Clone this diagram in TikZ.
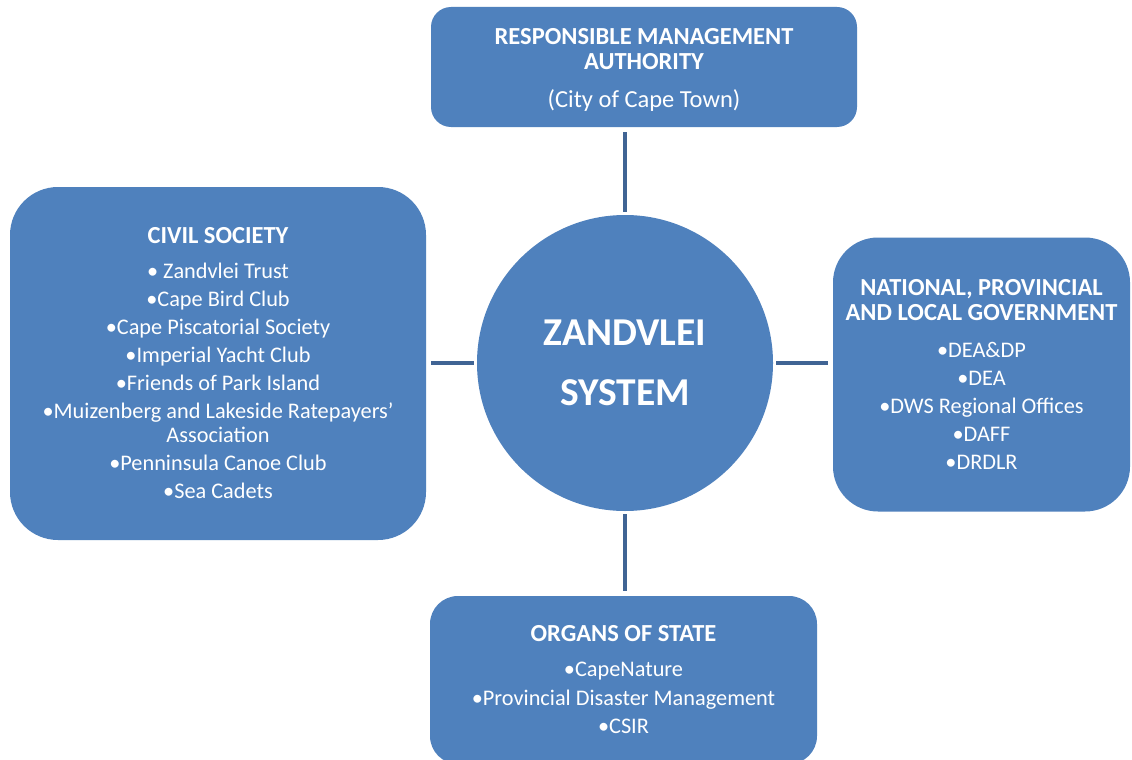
\documentclass[tikz,border=0pt]{standalone}
\usepackage{fontspec}
\setmainfont{Carlito}
\definecolor{boxblue}{HTML}{4F81BD}
\definecolor{linkblue}{RGB}{64,100,148}
\newcommand{\hd}[1]{{\fontsize{24.5}{24}\selectfont\bfseries #1}}
\begin{document}
\begin{tikzpicture}[x=1pt,y=-1pt,
  panel/.style={fill=boxblue, draw=none, text=white, align=center, inner sep=0pt,
    font=\fontsize{22.3}{24}\selectfont},
  hub/.style={circle, fill=boxblue, draw=none, text=white, align=center, inner sep=0pt,
    minimum size=296pt, font=\fontsize{39.5}{60}\selectfont\bfseries},
  link/.style={draw=linkblue, line width=4pt, shorten <=5pt, shorten >=3pt}]
\useasboundingbox (0,0) rectangle (1132,760);
\fill[white] (0,0) rectangle (1132,760);

% central system
\node[hub] (hub) at (625,363) {ZANDVLEI\\SYSTEM};

% top: management authority (strut lowers the text block a little)
\node[panel, rounded corners=20pt, minimum width=426pt, minimum height=120pt] (rma) at (644,67)
  {\rule{0pt}{22pt}\hd{RESPONSIBLE MANAGEMENT}\\[1pt]\hd{AUTHORITY}\\[14pt]{\fontsize{24.5}{24}\selectfont(City of Cape Town)}};

% left: civil society
\node[panel, rounded corners=48pt, minimum width=416pt, minimum height=353pt] (civil) at (218,363.5)
  {\hd{CIVIL SOCIETY}\\[11pt]
   • Zandvlei Trust\\[4pt]
   •Cape Bird Club\\[4pt]
   •Cape Piscatorial Society\\[4pt]
   •Imperial Yacht Club\\[4pt]
   •Friends of Park Island\\[4pt]
   •Muizenberg and Lakeside Ratepayers’\\
   Association\\[4pt]
   •Penninsula Canoe Club\\[4pt]
   •Sea Cadets};

% right: government
\node[panel, rounded corners=45pt, minimum width=297pt, minimum height=274pt] (gov) at (981.5,374.5)
  {\hd{NATIONAL, PROVINCIAL}\\[1pt]\hd{AND LOCAL GOVERNMENT}\\[12.5pt]
   •DEA\&DP\\[4pt]
   •DEA\\[4pt]
   •DWS Regional Offices\\[4pt]
   •DAFF\\[4pt]
   •DRDLR};

% bottom: organs of state
\node[panel, rounded corners=28pt, minimum width=387pt, minimum height=168pt] (organs) at (623.5,680)
  {\hd{ORGANS OF STATE}\\[11pt]
   •CapeNature\\[4.5pt]
   •Provincial Disaster Management\\[4.5pt]
   •CSIR};

% connectors, kept straight through the hub centre
\draw[link] (hub.north |- rma.south) -- (hub.north);
\draw[link] (civil.east |- hub.west) -- (hub.west);
\draw[link] (gov.west |- hub.east) -- (hub.east);
\draw[link] (hub.south |- organs.north) -- (hub.south);
\end{tikzpicture}
\end{document}
